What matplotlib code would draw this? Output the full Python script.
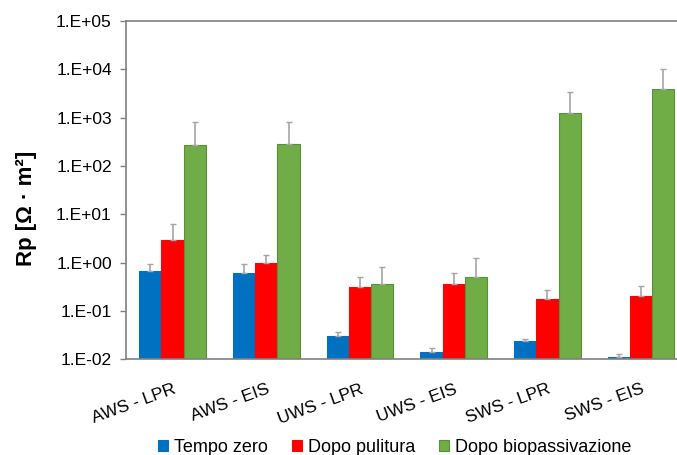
import matplotlib
matplotlib.use("Agg")
import matplotlib.pyplot as plt
import matplotlib.transforms as mtransforms
import numpy as np
from matplotlib.ticker import FixedLocator, FuncFormatter, NullLocator

plt.rcParams['font.family'] = ['Liberation Sans', 'DejaVu Sans']

categories = ["AWS - LPR", "AWS - EIS", "UWS - LPR", "UWS - EIS", "SWS - LPR", "SWS - EIS"]
series_names = ["Tempo zero", "Dopo pulitura", "Dopo biopassivazione"]
tempo_zero = [0.68, 0.62, 0.031, 0.014, 0.024, 0.0113]
tempo_zero_top = [0.95, 0.93, 0.036, 0.017, 0.026, 0.0127]
dopo_pulitura = [2.9, 1.0, 0.31, 0.365, 0.18, 0.206]
dopo_pulitura_top = [6.2, 1.41, 0.5, 0.6, 0.27, 0.33]
dopo_bio = [268, 290, 0.37, 0.5, 1260, 4000]
dopo_bio_top = [830, 830, 0.81, 1.26, 3440, 10300]
colors = ["#0070C0", "#FF0000", "#70AD47"]
edgecolors = ["#0070C0", "#FF0000", "#5A8F3A"]

fig = plt.figure(figsize=(6.77, 4.55), dpi=100)
ax = fig.add_axes([0.1857, 0.2103, 0.8306, 0.7435])

x = np.arange(len(categories))
w = 0.237
vals = [tempo_zero, dopo_pulitura, dopo_bio]
tops = [tempo_zero_top, dopo_pulitura_top, dopo_bio_top]
for i, (v, t) in enumerate(zip(vals, tops)):
    v = np.array(v); t = np.array(t)
    err = np.vstack([np.zeros_like(v), t - v])
    ax.bar(x + (i - 1) * w, v, width=w, color=colors[i], edgecolor=edgecolors[i],
           linewidth=0.8, label=series_names[i], zorder=2)
    ax.errorbar(x + (i - 1) * w, v, yerr=err, fmt='none', ecolor='#A5A5A5',
                elinewidth=1.2, capsize=2.5, capthick=1.0, zorder=3)

ax.set_yscale('log')
ax.set_ylim(1e-2, 1e5)
ax.set_xlim(-0.5, len(categories) - 0.5)
ax.yaxis.set_major_locator(FixedLocator([10.0 ** k for k in range(-2, 6)]))
ax.yaxis.set_minor_locator(NullLocator())

def fmt(val, pos):
    e = int(round(np.log10(val)))
    return "1.E%s%02d" % ("+" if e >= 0 else "-", abs(e))
ax.yaxis.set_major_formatter(FuncFormatter(fmt))

ax.set_xticks(x)
ax.set_xticklabels(categories, rotation=20, ha='right', va='top',
                   rotation_mode='anchor', fontsize=12.5)
offset = mtransforms.ScaledTranslation(-5 / 100, 0, fig.dpi_scale_trans)
for lab in ax.get_xticklabels():
    lab.set_transform(lab.get_transform() + offset)
ax.tick_params(axis='x', length=0, pad=16)
ax.tick_params(axis='y', labelsize=12.5, length=4, color='#808080', width=1, pad=6)

for s in ['left', 'bottom', 'top']:
    ax.spines[s].set_color('#808080')
    ax.spines[s].set_linewidth(1.2)
ax.spines['right'].set_visible(False)

ax.set_ylabel("Rp [Ω · m²]", fontsize=16, fontweight='bold')
ax.yaxis.set_label_coords(-0.157, 0.447)

leg = fig.legend(loc='center', bbox_to_anchor=(0.583, 0.016), ncol=3, frameon=False,
                 fontsize=13, handlelength=0.55, handleheight=0.55, handletextpad=0.35,
                 columnspacing=1.3)

fig.savefig("out.png", dpi=100)
